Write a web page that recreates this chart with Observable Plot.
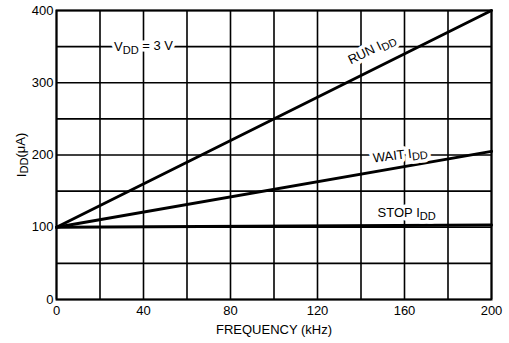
<!DOCTYPE html>
<html>
<head>
<meta charset="utf-8">
<script src="https://cdn.jsdelivr.net/npm/d3@7"></script>
<script src="https://cdn.jsdelivr.net/npm/@observablehq/plot@0.6"></script>
<style>
  html, body { margin: 0; padding: 0; background: #fff; }
  #chart svg { display: block; }
</style>
</head>
<body>
<div id="chart"></div>
<script>
// Data
const freq = [0, 200];            // kHz
const runIdd = [100, 400];        // µA
const waitIdd = [100, 205];       // µA
const stopIdd = [100, 103];       // µA

const xTicks = [0, 40, 80, 120, 160, 200];
const yTicks = [0, 100, 200, 300, 400];
const xGrid = d3.range(0, 201, 20);
const yGrid = d3.range(0, 401, 50);

// Annotations (text and anchor in data units)
const labelText = ["VDD = 3 V", "RUN IDD", "WAIT IDD", "STOP IDD"];
const labelX = [40, 145, 158, 161];
const labelY = [350, 346, 200, 120];
const labelAngle = [0, -26, -7, 0];

const series = [
  ...freq.map((f, i) => ({f, v: runIdd[i], s: "run"})),
  ...freq.map((f, i) => ({f, v: waitIdd[i], s: "wait"})),
  ...freq.map((f, i) => ({f, v: stopIdd[i], s: "stop"}))
];
const labels = labelText.map((t, i) => ({t, x: labelX[i], y: labelY[i], a: labelAngle[i]}));

const chart = Plot.plot({
  width: 509,
  height: 343,
  marginLeft: 56,
  marginRight: 18,
  marginTop: 10,
  marginBottom: 44,
  style: {fontFamily: "Liberation Sans, Arial, sans-serif", fontSize: "13px", color: "#000", background: "#fff"},
  x: {domain: [0, 200]},
  y: {domain: [0, 400]},
  marks: [
    Plot.ruleX(xGrid, {stroke: "#000", strokeWidth: 1.6}),
    Plot.ruleY(yGrid, {stroke: "#000", strokeWidth: 1.6}),
    Plot.line(series, {x: "f", y: "v", z: "s", stroke: "#000", strokeWidth: 3}),
    // white halo layer
    ...labels.map(d => Plot.text([d], {
      x: "x", y: "y", text: "t", rotate: d.a,
      fill: "#fff", stroke: "#fff", strokeWidth: 7, fontSize: 13
    })),
    // text layer
    ...labels.map(d => Plot.text([d], {
      x: "x", y: "y", text: "t", rotate: d.a,
      fill: "#000", fontSize: 13
    })),
    Plot.frame({stroke: "#000", strokeWidth: 2}),
    Plot.axisX(xTicks, {tickSize: 0, tickPadding: 6, fontSize: 13, label: "FREQUENCY (kHz)", labelAnchor: "center", labelArrow: "none", labelOffset: 34}),
    Plot.axisY(yTicks, {tickSize: 0, tickPadding: 3, fontSize: 13, label: "IDD(μA)", labelAnchor: "center", labelArrow: "none", labelOffset: 40})
  ]
});

// Subscripts for "DD"
d3.select(chart).selectAll("text").each(function() {
  const el = d3.select(this);
  if (el.selectAll("tspan").size() > 0) {
    el.selectAll("tspan").each(function() { sub(d3.select(this)); });
  } else sub(el);
});
function sub(el) {
  const s = el.text();
  const idx = s.indexOf("DD");
  if (idx < 0) return;
  const before = s.slice(0, idx), after = s.slice(idx + 2);
  el.text(null);
  el.append("tspan").text(before);
  el.append("tspan").attr("dy", "0.25em").attr("font-size", "0.85em").text("DD");
  if (after) el.append("tspan").attr("dy", "-0.25em").text(after);
}

document.getElementById("chart").appendChild(chart);
</script>
</body>
</html>
